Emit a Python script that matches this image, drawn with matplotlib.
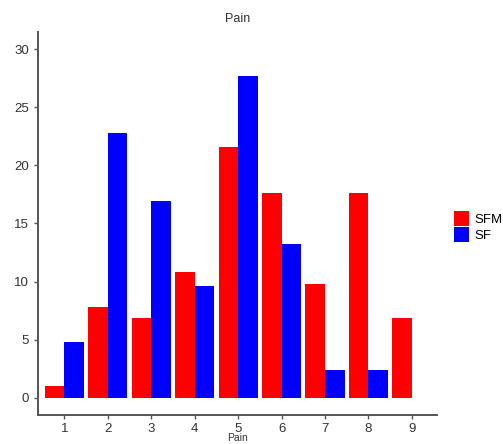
import numpy as np
import matplotlib
matplotlib.use("Agg")
import matplotlib.pyplot as plt
from matplotlib.patches import Patch

plt.rcParams["font.family"] = ["Liberation Sans", "DejaVu Sans"]

pain = [1, 2, 3, 4, 5, 6, 7, 8, 9]
sfm = [1.0, 7.8, 6.85, 10.8, 21.6, 17.6, 9.8, 17.6, 6.85]
sf = [4.8, 22.8, 16.9, 9.6, 27.7, 13.2, 2.4, 2.4, 0.0]
groups = ["SFM", "SF"]
colors = ["#ff0000", "#0000ff"]

fig = plt.figure(figsize=(5.03, 4.44), dpi=100)
ax = fig.add_axes([38 / 503, 1 - 415 / 444, (437 - 38) / 503, (415 - 32) / 444])

x = np.array(pain, dtype=float)
w = 0.45
ax.bar(x - w / 2, sfm, width=w, color=colors[0], linewidth=0)
ax.bar(x + w / 2, sf, width=w, color=colors[1], linewidth=0)

ax.set_xlim(0.39, 9.58)
ax.set_ylim(-1.5, 31.5)
ax.set_xticks(pain)
ax.set_yticks([0, 5, 10, 15, 20, 25, 30])
for s in ["top", "right"]:
    ax.spines[s].set_visible(False)
for s in ["left", "bottom"]:
    ax.spines[s].set_color("#555555")
    ax.spines[s].set_linewidth(1.4)
ax.tick_params(colors="#555555", labelcolor="#333333", labelsize=9.5, length=3, width=1)
ax.tick_params(axis="x", pad=2.5)
ax.set_title("Pain", fontsize=9, color="#333333", pad=7)
ax.set_xlabel("Pain", fontsize=7.5, color="#333333", labelpad=-1)

handles = [Patch(facecolor=c, edgecolor="none", label=g) for g, c in zip(groups, colors)]
fig.legend(handles=handles, loc="upper left", bbox_to_anchor=(449 / 503, 1 - 206 / 444),
           frameon=False, fontsize=9.5, handlelength=1.15, handleheight=1.35,
           handletextpad=0.35, labelspacing=0.05, borderaxespad=0)

fig.savefig("out.png", dpi=100)
